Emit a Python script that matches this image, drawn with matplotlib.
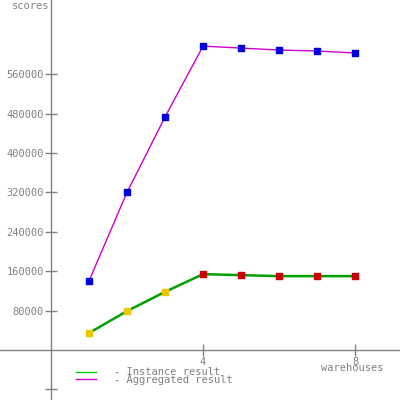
import matplotlib
matplotlib.use("Agg")
import matplotlib.pyplot as plt

warehouses = [1, 2, 3, 4, 5, 6, 7, 8]
aggregated = [140000, 320000, 473000, 617000, 613000, 609000, 607000, 603000]
instance = [34500, 79000, 118000, 154000, 152000, 150000, 150000, 150000]
instance_marker_colors = ["#e8c800", "#e8c800", "#e8c800", "#cc0000", "#cc0000", "#cc0000", "#cc0000", "#cc0000"]
y_ticks = [-80000, 80000, 160000, 240000, 320000, 400000, 480000, 560000]
y_tick_labels = ["", "80000", "160000", "240000", "320000", "400000", "480000", "560000"]
x_ticks = [4, 8]

grey = "#808080"
fig = plt.figure(figsize=(4, 4), dpi=100)
ax = fig.add_axes([0, 0, 1, 1])
ax.set_xlim(-1.34, 9.18)
ax.set_ylim(-101500, 710600)

for s in ["top", "right"]:
    ax.spines[s].set_visible(False)
for s in ["left", "bottom"]:
    ax.spines[s].set_position("zero")
    ax.spines[s].set_color(grey)
    ax.spines[s].set_linewidth(1)

font = dict(family="DejaVu Sans Mono", size=7.5)
ax.set_yticks(y_ticks)
ax.set_yticklabels(y_tick_labels, color=grey, **font)
ax.set_xticks(x_ticks)
ax.set_xticklabels([str(t) for t in x_ticks], color=grey, **font)
ax.tick_params(axis="both", direction="inout", length=8, color=grey, width=1, pad=1)

ax.plot(warehouses, aggregated, color="#cc00cc", lw=1, zorder=2)
ax.scatter(warehouses, aggregated, marker="s", s=16, color="#0000dd", zorder=3)
ax.plot(warehouses, instance, color="#00a000", lw=1.8, zorder=2)
ax.scatter(warehouses, instance, marker="s", s=16, c=instance_marker_colors, zorder=3)

ax.text(0.03, 0.997, "scores", transform=ax.transAxes, ha="left", va="top", color=grey, **font)
ax.text(0.958, 0.068, "warehouses", transform=ax.transAxes, ha="right", va="bottom", color=grey, **font)

leg_x0, leg_x1 = 0.19, 0.24
ax.plot([leg_x0, leg_x1], [0.07, 0.07], transform=ax.transAxes, color="#00cc00", lw=1, clip_on=False)
ax.plot([leg_x0, leg_x1], [0.052, 0.052], transform=ax.transAxes, color="#cc00cc", lw=1, clip_on=False)
ax.text(0.285, 0.069, "- Instance result", transform=ax.transAxes, va="center", color=grey, **font)
ax.text(0.285, 0.049, "- Aggregated result", transform=ax.transAxes, va="center", color=grey, **font)

fig.savefig("out.png", dpi=100)
